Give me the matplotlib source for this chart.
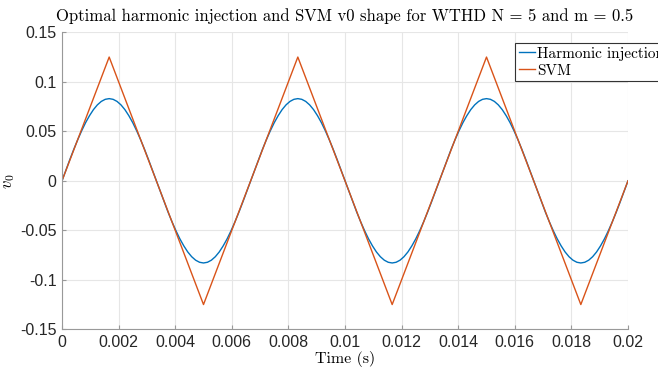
import numpy as np
import matplotlib
matplotlib.use('Agg')
from matplotlib import pyplot as plt

# harmonic injection v0, read every 1/144 of the 0.02 s window
harm_v0 = [
    0.0, 0.0108, 0.0215, 0.0318, 0.0415, 0.0505, 0.0587, 0.0658, 0.0719, 0.0767, 0.0802, 0.0823,
    0.0830, 0.0823, 0.0802, 0.0767, 0.0719, 0.0658, 0.0587, 0.0505, 0.0415, 0.0318, 0.0215, 0.0108,
    0.0, -0.0108, -0.0215, -0.0318, -0.0415, -0.0505, -0.0587, -0.0658, -0.0719, -0.0767, -0.0802, -0.0823,
    -0.0830, -0.0823, -0.0802, -0.0767, -0.0719, -0.0658, -0.0587, -0.0505, -0.0415, -0.0318, -0.0215, -0.0108,
    0.0, 0.0108, 0.0215, 0.0318, 0.0415, 0.0505, 0.0587, 0.0658, 0.0719, 0.0767, 0.0802, 0.0823,
    0.0830, 0.0823, 0.0802, 0.0767, 0.0719, 0.0658, 0.0587, 0.0505, 0.0415, 0.0318, 0.0215, 0.0108,
    0.0, -0.0108, -0.0215, -0.0318, -0.0415, -0.0505, -0.0587, -0.0658, -0.0719, -0.0767, -0.0802, -0.0823,
    -0.0830, -0.0823, -0.0802, -0.0767, -0.0719, -0.0658, -0.0587, -0.0505, -0.0415, -0.0318, -0.0215, -0.0108,
    0.0, 0.0108, 0.0215, 0.0318, 0.0415, 0.0505, 0.0587, 0.0658, 0.0719, 0.0767, 0.0802, 0.0823,
    0.0830, 0.0823, 0.0802, 0.0767, 0.0719, 0.0658, 0.0587, 0.0505, 0.0415, 0.0318, 0.0215, 0.0108,
    0.0, -0.0108, -0.0215, -0.0318, -0.0415, -0.0505, -0.0587, -0.0658, -0.0719, -0.0767, -0.0802, -0.0823,
    -0.0830, -0.0823, -0.0802, -0.0767, -0.0719, -0.0658, -0.0587, -0.0505, -0.0415, -0.0318, -0.0215, -0.0108,
    0.0]
harm_t = np.linspace(0, 0.02, len(harm_v0))

# SVM triangle corners
svm_t = [0, 0.001667, 0.005, 0.008333, 0.011667, 0.015, 0.018333, 0.02]
svm_v0 = [0, 0.125, -0.125, 0.125, -0.125, 0.125, -0.125, 0]

xticks = [0, 0.002, 0.004, 0.006, 0.008, 0.01, 0.012, 0.014, 0.016, 0.018, 0.02]
xlabels = ['0', '0.002', '0.004', '0.006', '0.008', '0.01', '0.012', '0.014', '0.016', '0.018', '0.02']
yticks = [-0.15, -0.1, -0.05, 0, 0.05, 0.1, 0.15]
ylabels = ['-0.15', '-0.1', '-0.05', '0', '0.05', '0.1', '0.15']

plt.rcParams['mathtext.fontset'] = 'cm'
serif = 'cmr10'

fig = plt.figure(figsize=(6.58, 3.68), dpi=100)
ax = fig.add_axes([62/658, 1-329.3/368, 566/658, 297/368])

ax.plot(harm_t, harm_v0, color='#0072BD', lw=1.0, label='Harmonic injection')
ax.plot(svm_t, svm_v0, color='#D95319', lw=1.0, label='SVM')

ax.set_xlim(0, 0.02)
ax.set_ylim(-0.15, 0.15)
ax.set_xticks(xticks)
ax.set_xticklabels(xlabels, fontfamily='Liberation Sans', fontsize=11.5, color='#262626')
ax.set_yticks(yticks)
ax.set_yticklabels(ylabels, fontfamily='Liberation Sans', fontsize=11.5, color='#262626')
ax.tick_params(direction='in', length=3, color='#999999', pad=4)
ax.grid(True, color='#e6e6e6', lw=0.8)
ax.set_axisbelow(True)
for s in ['top', 'right']:
    ax.spines[s].set_visible(False)
for s in ['left', 'bottom']:
    ax.spines[s].set_color('#999999')
    ax.spines[s].set_linewidth(0.8)

ax.set_title('Optimal harmonic injection and SVM v0 shape for WTHD N = 5 and m = 0.5',
             fontfamily=serif, fontsize=12, pad=8)
ax.set_xlabel('Time (s)', fontfamily=serif, fontsize=11.5, labelpad=1)
ax.set_ylabel('$v_0$', fontsize=12, labelpad=2)

leg = ax.legend(loc='upper left', bbox_to_anchor=(0.8, 0.964), borderaxespad=0,
                prop={'family': serif, 'size': 11}, fancybox=False, framealpha=1,
                edgecolor='#333333', handlelength=1.1, handletextpad=0.1,
                borderpad=0.25, labelspacing=0.2)
leg.get_frame().set_linewidth(0.8)

fig.savefig('out.png', dpi=100)
